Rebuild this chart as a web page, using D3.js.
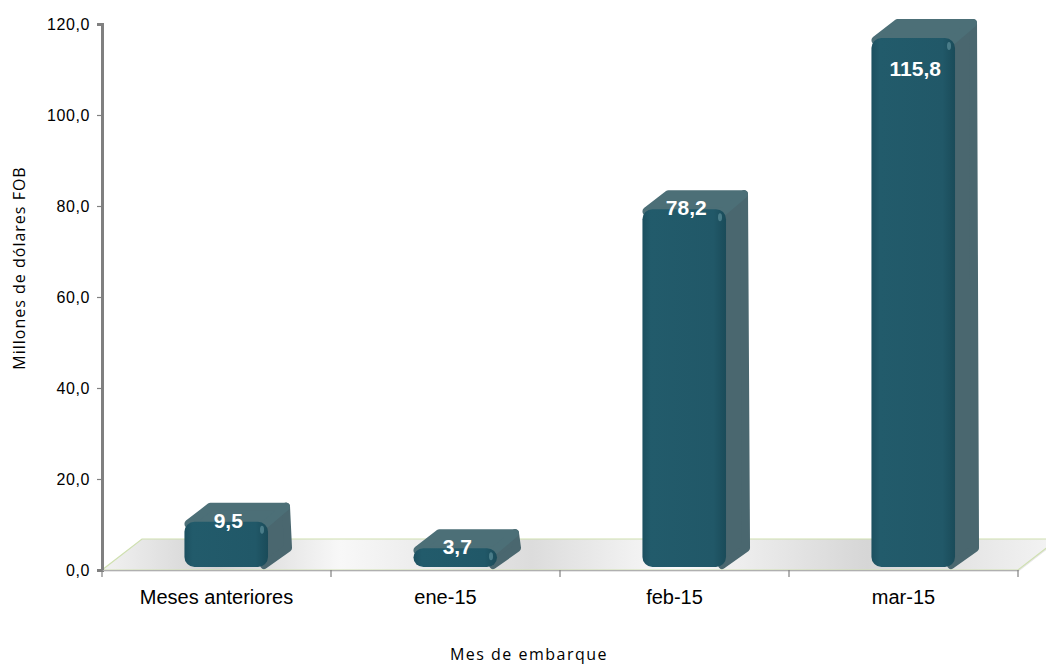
<!DOCTYPE html>
<html>
<head>
<meta charset="utf-8">
<script src="https://cdn.jsdelivr.net/npm/d3@7/dist/d3.min.js"></script>
<style>
body { margin: 0; background: #fff; }
svg { display: block; }
</style>
</head>
<body>
<svg width="1046" height="664"></svg>
<script>
var categories = ["Meses anteriores", "ene-15", "feb-15", "mar-15"];
var values = [9.5, 3.7, 78.2, 115.8];
var valueLabels = ["9,5", "3,7", "78,2", "115,8"];
var yTicks = [0, 20, 40, 60, 80, 100, 120];

function createChart() {
    var svg = d3.select("svg");
    var left = 102, right = 1018, base = 570, top = 24;
    var xScale = d3.scaleBand().domain(categories).range([left, right]);
    var yScale = d3.scaleLinear().domain([0, 120]).range([base, top]);
    var bw = xScale.bandwidth();

    var defs = svg.append("defs");
    var fg = defs.append("linearGradient").attr("id", "floorG")
        .attr("x1", "0").attr("x2", "1").attr("y1", "0").attr("y2", "0");
    [["0%", "#f2f2f2"], ["12%", "#d2d2d2"], ["25%", "#f8f8f8"], ["45%", "#dcdcdc"],
     ["60%", "#fafafa"], ["80%", "#d6d6d6"], ["100%", "#f4f4f4"]].forEach(s =>
        fg.append("stop").attr("offset", s[0]).attr("stop-color", s[1]));
    var frontG = defs.append("linearGradient").attr("id", "frontG")
        .attr("x1", "0").attr("x2", "1").attr("y1", "0").attr("y2", "0");
    [["0%", "#1c5060"], ["10%", "#225b6b"], ["85%", "#215868"], ["100%", "#1a4b59"]].forEach(s =>
        frontG.append("stop").attr("offset", s[0]).attr("stop-color", s[1]));

    // floor
    var fdx = 40, fdy = -31;
    svg.append("path")
        .attr("d", `M${left},${base + 2} L${right},${base + 2} L${right + fdx},${base + fdy + 2} L${right + fdx},${base + fdy} L${left + fdx},${base + fdy} L${left},${base} Z`)
        .attr("fill", "#e6e6e6");
    svg.append("path")
        .attr("d", `M${left},${base} L${right},${base} L${right + fdx},${base + fdy} L${left + fdx},${base + fdy} Z`)
        .attr("fill", "url(#floorG)")
        .attr("stroke", "#cfe0b0").attr("stroke-width", 1.2);

    // y axis
    var yAxis = d3.axisLeft().scale(yScale).tickValues(yTicks)
        .tickSize(5).tickFormat(d => d3.format(".1f")(d).replace(".", ","));
    var yG = svg.append("g").attr("id", "yAxisG")
        .attr("transform", `translate(${left},0)`).call(yAxis);
    yG.select(".domain").attr("stroke", "#808080").attr("stroke-width", 3);
    yG.selectAll(".tick line").attr("stroke", "#808080").attr("stroke-width", 1.2);
    yG.selectAll("text").attr("font-family", "Liberation Sans, Arial, sans-serif")
        .attr("font-size", 16).attr("letter-spacing", 0.6)
        .attr("fill", "#000").attr("x", -12);

    // x axis
    var xAxis = d3.axisBottom().scale(xScale).tickSize(0);
    var xG = svg.append("g").attr("id", "xAxisG")
        .attr("transform", `translate(0,${base})`).call(xAxis);
    xG.select(".domain").attr("stroke", "#b0b0b0").attr("stroke-width", 1);
    xG.selectAll("text").attr("font-family", "Liberation Sans, Arial, sans-serif")
        .attr("font-size", 20).attr("fill", "#000").attr("y", 20).attr("dy", "0.71em");
    xG.selectAll("line.edge")
        .data(categories.map(c => xScale(c)).concat([right]))
        .enter().append("line").attr("class", "edge")
        .attr("x1", d => d).attr("x2", d => d)
        .attr("y1", 0).attr("y2", 7)
        .attr("stroke", "#808080").attr("stroke-width", 1.2);

    // bars
    var dx = 22, dy = -19, bottom = 567;
    var bars = svg.selectAll("g.bar").data(values).enter().append("g").attr("class", "bar");
    var x0 = (d, i) => xScale(categories[i]) + bw * 0.36;
    var x1 = (d, i) => x0(d, i) + bw * 0.365;
    var ft = d => yScale(d) - 5;

    bars.append("path")
        .attr("d", (d, i) => `M${x1(d, i) - 4},${ft(d) + 2} L${x1(d, i) + dx - 4},${ft(d) + dy + 4} L${x1(d, i) + dx - 2},${bottom + dy} L${x1(d, i) - 4},${bottom - 2}Z`)
        .attr("fill", "#4a676f").attr("stroke", "#4a676f")
        .attr("stroke-width", 8).attr("stroke-linejoin", "round");
    bars.append("path")
        .attr("d", (d, i) => `M${x0(d, i) + 4},${ft(d) + 2} L${x0(d, i) + dx + 4},${ft(d) + dy + 4} L${x1(d, i) + dx - 4},${ft(d) + dy + 4} L${x1(d, i) - 2},${ft(d) + 2}Z`)
        .attr("fill", "#4c6f77").attr("stroke", "#4c6f77")
        .attr("stroke-width", 8).attr("stroke-linejoin", "round");
    bars.append("rect")
        .attr("x", (d, i) => x0(d, i))
        .attr("y", d => ft(d))
        .attr("width", (d, i) => x1(d, i) - x0(d, i))
        .attr("height", d => bottom - ft(d))
        .attr("rx", 10).attr("ry", 10)
        .attr("fill", "url(#frontG)");
    bars.append("ellipse")
        .attr("cx", (d, i) => x1(d, i) - 6)
        .attr("cy", d => ft(d) + 8)
        .attr("rx", 2).attr("ry", 4)
        .attr("fill", "#5d8e9a").attr("opacity", 0.7);

    bars.append("text")
        .attr("x", (d, i) => (x0(d, i) + x1(d, i)) / 2 + 2)
        .attr("y", d => Math.max(yScale(d) + 1, 76))
        .attr("text-anchor", "middle")
        .attr("font-family", "Liberation Sans, Arial, sans-serif")
        .attr("font-weight", "bold").attr("font-size", 21)
        .attr("fill", "#fff")
        .text((d, i) => valueLabels[i]);

    // axis titles
    svg.append("text")
        .attr("transform", "translate(25,268) rotate(-90)")
        .attr("text-anchor", "middle")
        .attr("font-family", "Open Sans, sans-serif").attr("font-size", 16)
        .attr("letter-spacing", 1)
        .text("Millones de dólares FOB");
    svg.append("text")
        .attr("x", 529).attr("y", 660)
        .attr("text-anchor", "middle")
        .attr("font-family", "Open Sans, sans-serif").attr("font-size", 16)
        .attr("letter-spacing", 1.5)
        .text("Mes de embarque");
}
createChart();
</script>
</body>
</html>
